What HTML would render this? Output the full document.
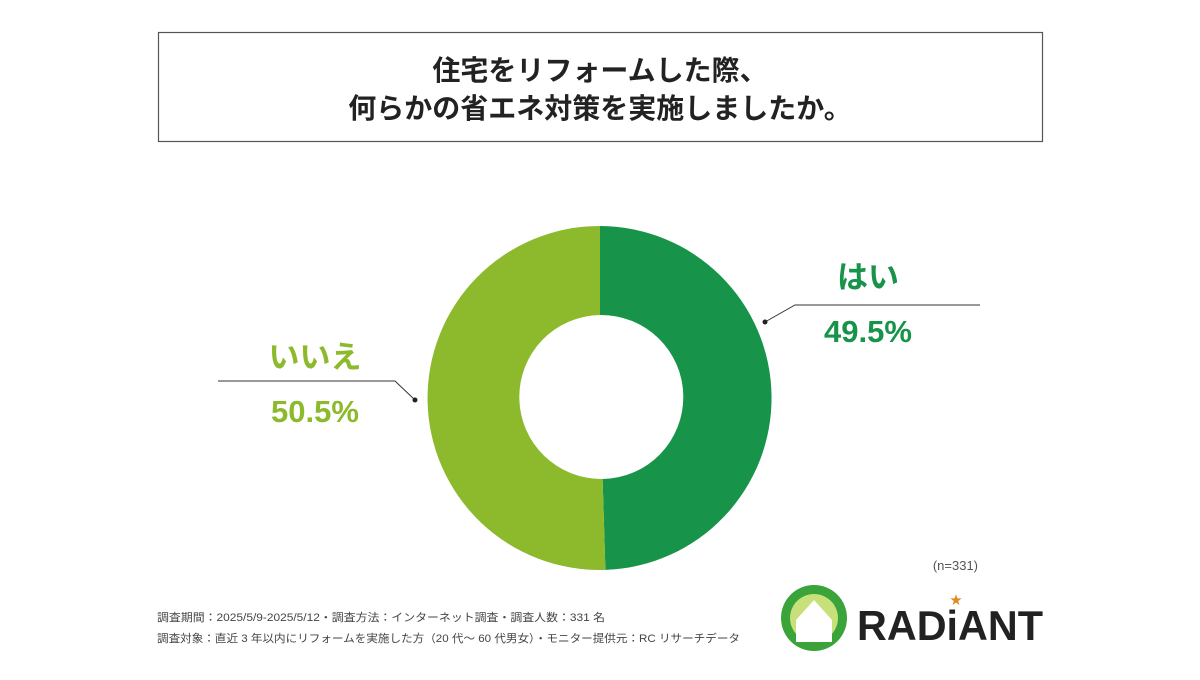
<!DOCTYPE html>
<html><head><meta charset="utf-8"><style>
body{margin:0;width:1200px;height:675px;background:#fff;overflow:hidden;font-family:"Liberation Sans","Noto Sans CJK JP",sans-serif}
</style></head><body>
<svg width="1200" height="675" xmlns="http://www.w3.org/2000/svg" style="font-family:'Liberation Sans','Noto Sans CJK JP',sans-serif">
<rect x="158.5" y="32.5" width="884" height="109" fill="#fff" stroke="#555" stroke-width="1.2"/>
<text x="600" y="80" text-anchor="middle" font-size="28" font-weight="bold" fill="#222">住宅をリフォームした際、</text>
<text x="600" y="118" text-anchor="middle" font-size="28" font-weight="bold" fill="#222">何らかの省エネ対策を実施しましたか。</text>
<path d="M600,226 A172,172 0 0 1 605.4,569.9 L602.6,479 A82,82 0 0 0 600,315 Z" fill="#17934a"/>
<path d="M605.4,569.9 A172,172 0 1 1 600,226 L600,315 A82,82 0 1 0 602.6,479 Z" fill="#8cba2c"/>
<polyline points="765,322 795,305 980,305" fill="none" stroke="#333" stroke-width="1"/>
<circle cx="765" cy="322" r="2.5" fill="#222"/>
<polyline points="415,400 395,381 218,381" fill="none" stroke="#333" stroke-width="1"/>
<circle cx="415" cy="400" r="2.5" fill="#222"/>
<text x="868" y="288" text-anchor="middle" font-size="31" font-weight="bold" fill="#17934a">はい</text>
<text x="868" y="342" text-anchor="middle" font-size="31" font-weight="bold" fill="#17934a">49.5%</text>
<text x="315" y="368" text-anchor="middle" font-size="31" font-weight="bold" fill="#8cba2c">いいえ</text>
<text x="315" y="422" text-anchor="middle" font-size="31" font-weight="bold" fill="#8cba2c">50.5%</text>
<text x="978" y="570" text-anchor="end" font-size="13" fill="#555">(n=331)</text>
<text x="157" y="621" font-size="11" fill="#444" textLength="448" lengthAdjust="spacingAndGlyphs">調査期間：2025/5/9-2025/5/12・調査方法：インターネット調査・調査人数：331 名</text>
<text x="157" y="642" font-size="11" fill="#444" textLength="583" lengthAdjust="spacingAndGlyphs">調査対象：直近 3 年以内にリフォームを実施した方（20 代～ 60 代男女）・モニター提供元：RC リサーチデータ</text>
<circle cx="814" cy="618" r="33" fill="#3aa43a"/>
<circle cx="814" cy="618" r="24" fill="#c7e07a"/>
<path d="M796,620 L814,600 L832,620 L832,642 L796,642 Z" fill="#fff"/>
<text x="857" y="640" font-size="42" font-weight="bold" fill="#222" textLength="186" lengthAdjust="spacingAndGlyphs">RADiANT</text>
<text x="950" y="604" font-size="12" fill="#e08a1e">★</text>
</svg>
</body></html>
